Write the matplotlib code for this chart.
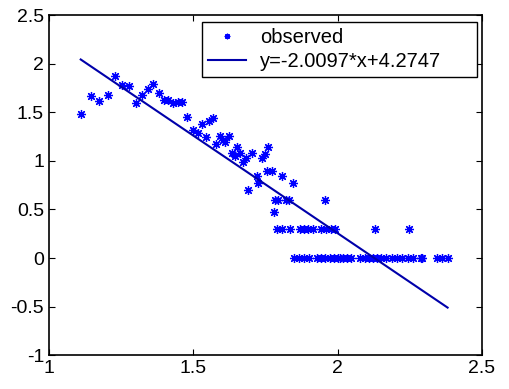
import numpy as np
import matplotlib.pyplot as plt

plt.rcParams['font.family'] = ['Liberation Sans', 'DejaVu Sans']

# observed points
x_obs = [1.110, 1.144, 1.173, 1.205, 1.229, 1.252, 1.277, 1.301, 1.321, 1.342,
         1.361, 1.381, 1.398, 1.413, 1.428, 1.448, 1.460, 1.477, 1.500, 1.517,
         1.529, 1.544, 1.555, 1.567, 1.578, 1.592, 1.604, 1.610, 1.625, 1.633,
         1.644, 1.652, 1.662, 1.673, 1.682, 1.702, 1.737, 1.748, 1.760, 1.690,
         1.719, 1.725, 1.756, 1.774, 1.808, 1.846, 1.783, 1.794, 1.821, 1.832,
         1.780, 1.956]
y_obs = [1.48, 1.67, 1.62, 1.68, 1.87, 1.78, 1.77, 1.60, 1.68, 1.74,
         1.79, 1.70, 1.63, 1.63, 1.60, 1.61, 1.61, 1.45, 1.32, 1.29,
         1.38, 1.25, 1.41, 1.44, 1.17, 1.26, 1.21, 1.19, 1.26, 1.08,
         1.05, 1.14, 1.08, 0.99, 1.03, 1.08, 1.03, 1.07, 1.14, 0.70,
         0.84, 0.77, 0.90, 0.90, 0.84, 0.77, 0.60, 0.60, 0.60, 0.60,
         0.47, 0.60]

# points sitting on the 0.3 level
x_03 = [1.789, 1.808, 1.835, 1.869, 1.884, 1.898, 1.913, 1.942, 1.959, 1.977,
        1.991, 2.129, 2.248]
# points sitting on zero
x_00 = [1.850, 1.867, 1.884, 1.902, 1.927, 1.942, 1.956, 1.973, 1.988, 2.000,
        2.008, 2.019, 2.033, 2.046, 2.077, 2.095, 2.108, 2.121, 2.135, 2.150,
        2.167, 2.187, 2.204, 2.222, 2.245, 2.262, 2.289, 2.294, 2.346, 2.360,
        2.381]

x_all = np.array(x_obs + x_03 + x_00)
y_all = np.array(y_obs + [0.3] * len(x_03) + [0.0] * len(x_00))

slope = -2.0097
intercept = 4.2747
x_fit = np.array([x_all.min(), x_all.max()])
y_fit = slope * x_fit + intercept

fig = plt.figure(figsize=(5.1, 3.89), dpi=100)
ax = fig.add_axes([0.096, 0.087, 0.849, 0.874])

ax.plot(x_all, y_all, linestyle='none', marker=(8, 2, 0), markersize=6.5,
        markeredgewidth=0.9, color='#0000ff', label='observed')
ax.plot(x_fit, y_fit, color='#0000aa', linewidth=1.5,
        label='y=-2.0097*x+4.2747')

ax.set_xlim(1, 2.5)
ax.set_ylim(-1, 2.5)
ax.set_xticks([1, 1.5, 2, 2.5])
ax.set_xticklabels(['1', '1.5', '2', '2.5'])
ax.set_yticks(np.arange(-1, 2.51, 0.5))
ax.set_yticklabels(['-1', '-0.5', '0', '0.5', '1', '1.5', '2', '2.5'])
ax.tick_params(direction='in', top=True, right=True, labelsize=14, length=4)
for s in ax.spines.values():
    s.set_linewidth(1.2)

leg = ax.legend(loc='upper left', mode='expand', fontsize=14.5, fancybox=False,
                framealpha=1, edgecolor='black', handlelength=1.9,
                handletextpad=0.7, borderpad=0.3, labelspacing=0.25,
                borderaxespad=0, bbox_to_anchor=(0.353, 0.817, 0.635, 0.163))
leg.get_frame().set_linewidth(1.0)
leg.legend_handles[0].set_markersize(4)

fig.savefig('out.png', dpi=100)
